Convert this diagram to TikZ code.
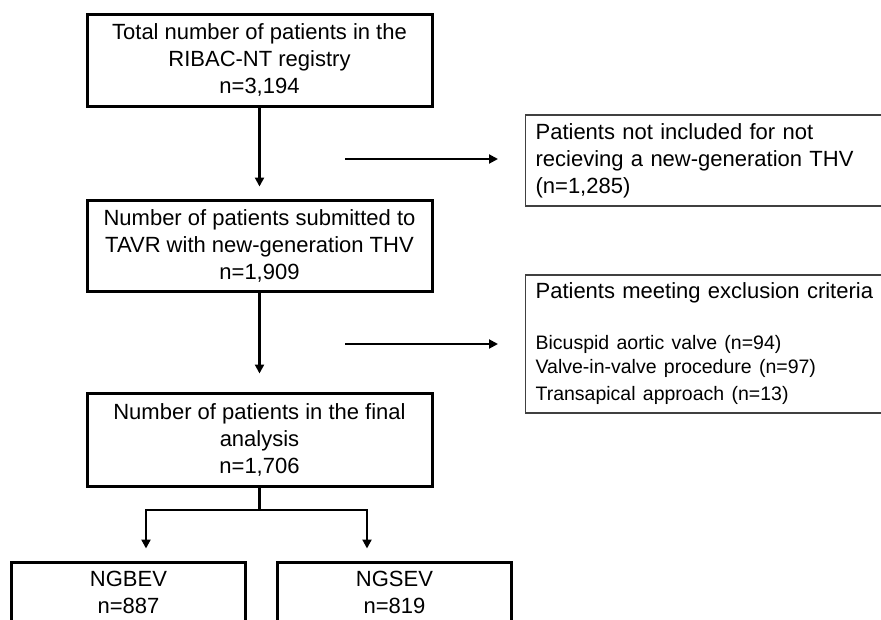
\documentclass[tikz,border=0pt]{standalone}
\usepackage{fontspec}
\setmainfont{Liberation Sans}
\usetikzlibrary{arrows.meta}
\begin{document}
\begin{tikzpicture}[x=1pt,y=-1pt,
  mainbox/.style={draw=black, line width=3pt, align=center, minimum width=345pt, inner sep=0pt, font=\fontsize{22}{27}\selectfont},
  sidebox/.style={draw=black!75, line width=1.2pt, anchor=west, inner xsep=10pt, inner ysep=0pt, text width=380pt, align=left, font=\fontsize{22}{27}\selectfont},
  arr/.style={line width=2.2pt, -{Triangle[width=9pt,length=9pt]}},
  ln/.style={line width=2.2pt}
]
\useasboundingbox (0,0) rectangle (881,619);
\clip (0,0) rectangle (881,619);
% main column
\node[mainbox, minimum height=92pt] (b1) at (259.5,60) {Total number of patients in the\\RIBAC-NT registry\\n=3,194};
\node[mainbox, minimum height=91pt] (b2) at (259.5,245.5) {Number of patients submitted to\\TAVR with new-generation THV\\n=1,909};
\node[mainbox, minimum height=93pt] (b3) at (259.5,439.5) {Number of patients in the final\\analysis\\n=1,706};
\node[mainbox, minimum width=234pt, minimum height=60pt] (n1) at (128.5,592) {NGBEV\\n=887};
\node[mainbox, minimum width=234pt, minimum height=60pt] (n2) at (394.5,592) {NGSEV\\n=819};
% side boxes
\node[sidebox, minimum height=91pt] (r1) at (525,160.5) {Patients not included for not\\recieving a new-generation THV\\(n=1,285)};
\node[sidebox, minimum height=138pt] (r2) at (525,344) {Patients meeting exclusion criteria\\[27pt]\fontsize{19.5}{24}\selectfont Bicuspid aortic valve (n=94)\\Valve-in-valve procedure\ (n=97)\\Transapical approach (n=13)};
% vertical arrows
\draw[arr, shorten >=12pt] (b1.south) -- (b2.north);
\draw[arr, shorten >=18pt] (b2.south) -- (b3.north);
% side arrows
\coordinate (h1s) at (345,159);
\coordinate (h1e) at (498,159);
\coordinate (h2s) at (345,344);
\coordinate (h2e) at (498,344);
\draw[arr, line width=2pt] (h1s) -- (h1e);
\draw[arr, line width=2pt] (h2s) -- (h2e);
% split
\coordinate (sp) at (259.5,510);
\coordinate (sl) at (146,510);
\coordinate (sr) at (367,510);
\draw[ln] (b3.south) -- (sp);
\draw[arr, shorten >=12pt] (sp) -| (sl |- n1.north);
\draw[arr, shorten >=12pt] (sp) -| (sr |- n2.north);
\end{tikzpicture}
\end{document}
